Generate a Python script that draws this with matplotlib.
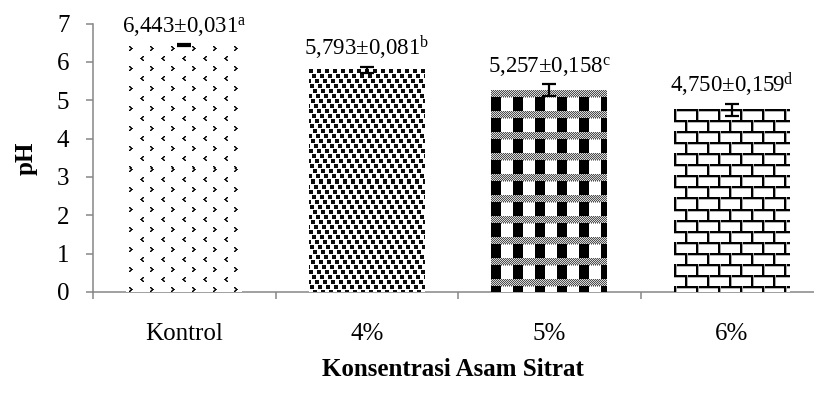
import numpy as np
import matplotlib
matplotlib.use("Agg")
import matplotlib.pyplot as plt

# Data
categories = ["Kontrol", "4%", "5%", "6%"]
ph_mean = [6.443, 5.793, 5.257, 4.750]
ph_sd = [0.031, 0.081, 0.158, 0.159]
letters = ["a", "b", "c", "d"]
y_ticks = [0, 1, 2, 3, 4, 5, 6, 7]

plt.rcParams["font.family"] = ["Liberation Serif", "DejaVu Serif"]
plt.rcParams["mathtext.fontset"] = "custom"
plt.rcParams["mathtext.rm"] = "Liberation Serif"
plt.rcParams["mathtext.it"] = "Liberation Serif:italic"
plt.rcParams["mathtext.bf"] = "Liberation Serif:bold"

AXIS_GRAY = "#868686"


# ---------- pattern tiles (1 = white, 0 = black) ----------
def tile_chevrons():
    t = np.ones((20, 21))
    g = np.array([[0.0, 0.3, 1.0, 1.0, 1.0],
                  [0.6, 0.0, 0.2, 1.0, 1.0],
                  [1.0, 0.5, 0.0, 0.1, 1.0],
                  [0.6, 0.0, 0.2, 1.0, 1.0],
                  [0.0, 0.3, 1.0, 1.0, 1.0]])
    t[2:7, 3:8] = g
    t[12:17, 13:18] = g[:, ::-1]
    return t


def tile_confetti():
    w, pitch, sq = 8, 5, 4
    t = np.ones((pitch * w, w))
    for k in range(w):
        off = (k * 3) % w
        for dr in range(sq):
            for dc in range(sq):
                t[k * pitch + dr, (off + dc) % w] = 0.05
    return t


def tile_checkband():
    t = np.ones((21, 22))
    for r in range(7):
        for c in range(22):
            t[r, c] = 0.3 if (r + c) % 2 == 0 else 0.85
    t[7:21, 0:10] = 0.0
    t[7:21, 10:22] = 1.0
    t[7, 10:22:2] = 0.6
    return t


def tile_brick():
    t = np.ones((22, 22))
    t[0:2, :] = 0.0
    t[2, :] = 0.7
    t[11:13, :] = 0.0
    t[13, :] = 0.7
    t[0:11, 0:2] = 0.0
    t[0:11, 2] = 0.65
    t[11:22, 11:13] = 0.0
    t[11:22, 13] = 0.65
    return t


tiles = [tile_chevrons(), tile_confetti(), tile_checkband(), tile_brick()]

# ---------- figure ----------
fig = plt.figure(figsize=(8.14, 3.97), dpi=100)
ax = fig.add_axes([93 / 814, 105 / 397, 730 / 814, 268.5 / 397])

x = np.arange(len(categories))
bar_w = 0.635
ax.set_xlim(-0.5, len(categories) - 0.5)
ax.set_ylim(0, 7)

bars = ax.bar(x, ph_mean, width=bar_w, color="white", edgecolor="none", zorder=2)

# fill each bar with its texture, clipped to the bar shape
for bar, tile in zip(bars, tiles):
    x0 = bar.get_x()
    x1 = x0 + bar.get_width()
    h = bar.get_height()
    p0, p1 = ax.transData.transform([(x0, 0), (x1, h)])
    wpx = int(round(p1[0] - p0[0]))
    hpx = int(round(p1[1] - p0[1]))
    reps_y = hpx // tile.shape[0] + 2
    reps_x = wpx // tile.shape[1] + 2
    tex = np.tile(tile, (reps_y, reps_x))[:hpx, :wpx]
    ax.imshow(tex, extent=(x0, x1, 0, h), cmap="gray", vmin=0, vmax=1,
              interpolation="nearest", aspect="auto", origin="upper",
              clip_path=bar, zorder=3)

ax.set_xlim(-0.5, len(categories) - 0.5)
ax.set_ylim(0, 7)

ax.errorbar(x, ph_mean, yerr=ph_sd, fmt="none", ecolor="black",
            elinewidth=1.6, capsize=4.8, capthick=1.6, zorder=4)

for i, (m, s, l) in enumerate(zip(ph_mean, ph_sd, letters)):
    txt = (f"{m:.3f}".replace(".", ",") + "±" + f"{s:.3f}".replace(".", ",")
           + r"$^{\mathrm{" + l + "}}$")
    ax.annotate(txt, xy=(i, m + s), xytext=(0, 8), textcoords="offset points",
                ha="center", va="baseline", fontsize=16.5, zorder=5)

# axes styling
for side in ("top", "right"):
    ax.spines[side].set_visible(False)
for side in ("left", "bottom"):
    ax.spines[side].set_color(AXIS_GRAY)
    ax.spines[side].set_linewidth(1.1)

ax.set_yticks(y_ticks)
ax.tick_params(axis="y", direction="out", length=5, width=1.1, color=AXIS_GRAY,
               labelsize=18, pad=12)
ax.set_xticks(x)
ax.set_xticklabels(categories)
ax.set_xticks(np.arange(-0.5, len(categories), 1.0), minor=True)
ax.tick_params(axis="x", which="major", length=0, labelsize=18, pad=22)
ax.tick_params(axis="x", which="minor", direction="out", length=5, width=1.1,
               color=AXIS_GRAY)

fig.text(26 / 814, 1 - 158 / 397, "pH", rotation=90, ha="center", va="center",
         fontsize=18, fontweight="bold")
fig.text(453 / 814, 1 - 370 / 397, "Konsentrasi Asam Sitrat", ha="center",
         va="center", fontsize=18, fontweight="bold")

fig.savefig("out.png", dpi=100)
